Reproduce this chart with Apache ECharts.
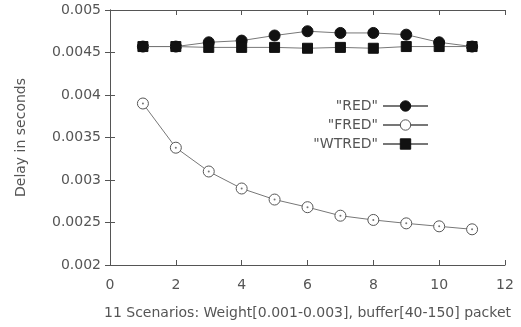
<!DOCTYPE html>
<html>
<head>
<meta charset="utf-8">
<script src="https://cdn.jsdelivr.net/npm/echarts@6/dist/echarts.min.js"></script>
<style>html,body{margin:0;padding:0;background:#fff}#c{width:521px;height:327px}</style>
</head>
<body>
<div id="c"></div>
<script>
// Scenario index (1..11) and mean delay per queue discipline
const scenarios = [1, 2, 3, 4, 5, 6, 7, 8, 9, 10, 11];
const redDelay   = [0.00457, 0.00457, 0.00462, 0.00464, 0.00470, 0.00475, 0.00473, 0.00473, 0.00471, 0.00462, 0.00457];
const fredDelay  = [0.00390, 0.00338, 0.00310, 0.00290, 0.00277, 0.00268, 0.00258, 0.00253, 0.00249, 0.002455, 0.00242];
const wtredDelay = [0.00457, 0.00457, 0.00456, 0.00456, 0.00456, 0.00455, 0.00456, 0.00455, 0.00457, 0.00457, 0.00457];
const seriesNames = ['"RED"', '"FRED"', '"WTRED"'];

const font = 'DejaVu Sans';
const textColor = '#555';
const lineColor = '#777';
const frameColor = '#555';

const pairs = arr => scenarios.map((x, i) => [x, arr[i]]);

const chart = echarts.init(document.getElementById('c'), null, { renderer: 'canvas' });

const frame = { show: true, lineStyle: { color: frameColor, width: 1 } };
const ticks = { show: true, inside: true, length: 5, lineStyle: { color: frameColor } };

chart.setOption({
  animation: false,
  grid: { left: 110, right: 16, top: 10, bottom: 62, containLabel: false },
  legend: {
    right: 87, top: 94, orient: 'vertical', align: 'right',
    itemWidth: 45, itemHeight: 13, itemGap: 5,
    itemStyle: { borderWidth: 1 },
    textStyle: { fontFamily: font, fontSize: 14, color: textColor },
    data: seriesNames
  },
  xAxis: [{
    type: 'value', min: 0, max: 12, interval: 2,
    axisLine: frame, axisTick: ticks,
    axisLabel: { fontFamily: font, fontSize: 14, color: textColor, margin: 13 },
    splitLine: { show: false },
    name: '11 Scenarios: Weight[0.001-0.003], buffer[40-150] packet',
    nameLocation: 'middle', nameGap: 41,
    nameTextStyle: { fontFamily: font, fontSize: 14, color: textColor }
  }, {
    type: 'value', position: 'top', min: 0, max: 12, interval: 2,
    axisLine: frame, axisTick: ticks,
    axisLabel: { show: false }, splitLine: { show: false }
  }],
  yAxis: [{
    type: 'value', min: 0.002, max: 0.005, interval: 0.0005,
    axisLine: frame, axisTick: ticks,
    axisLabel: { fontFamily: font, fontSize: 14, color: textColor, margin: 9 },
    splitLine: { show: false },
    name: 'Delay in seconds', nameLocation: 'middle', nameGap: 82, nameRotate: 90,
    nameTextStyle: { fontFamily: font, fontSize: 14, color: textColor }
  }, {
    type: 'value', position: 'right', min: 0.002, max: 0.005, interval: 0.0005,
    axisLine: frame, axisTick: ticks,
    axisLabel: { show: false }, splitLine: { show: false }
  }],
  series: [
    {
      name: seriesNames[0], type: 'line', data: pairs(redDelay),
      symbol: 'circle', symbolSize: 11,
      itemStyle: { color: '#111', borderColor: '#111' },
      lineStyle: { color: lineColor, width: 1 }, z: 3
    },
    {
      name: seriesNames[1], type: 'line', data: pairs(fredDelay),
      symbol: 'circle', symbolSize: 11,
      itemStyle: { color: '#fff', borderColor: '#555', borderWidth: 1 },
      lineStyle: { color: lineColor, width: 1 }, z: 2
    },
    {
      // centre dot of the open FRED markers
      name: 'FRED centre', type: 'scatter', data: pairs(fredDelay),
      symbol: 'circle', symbolSize: 2,
      itemStyle: { color: '#555' }, z: 5, silent: true
    },
    {
      name: seriesNames[2], type: 'line', data: pairs(wtredDelay),
      symbol: 'rect', symbolSize: 10,
      itemStyle: { color: '#111', borderColor: '#111' },
      lineStyle: { color: lineColor, width: 1 }, z: 4
    }
  ]
});
</script>
</body>
</html>
